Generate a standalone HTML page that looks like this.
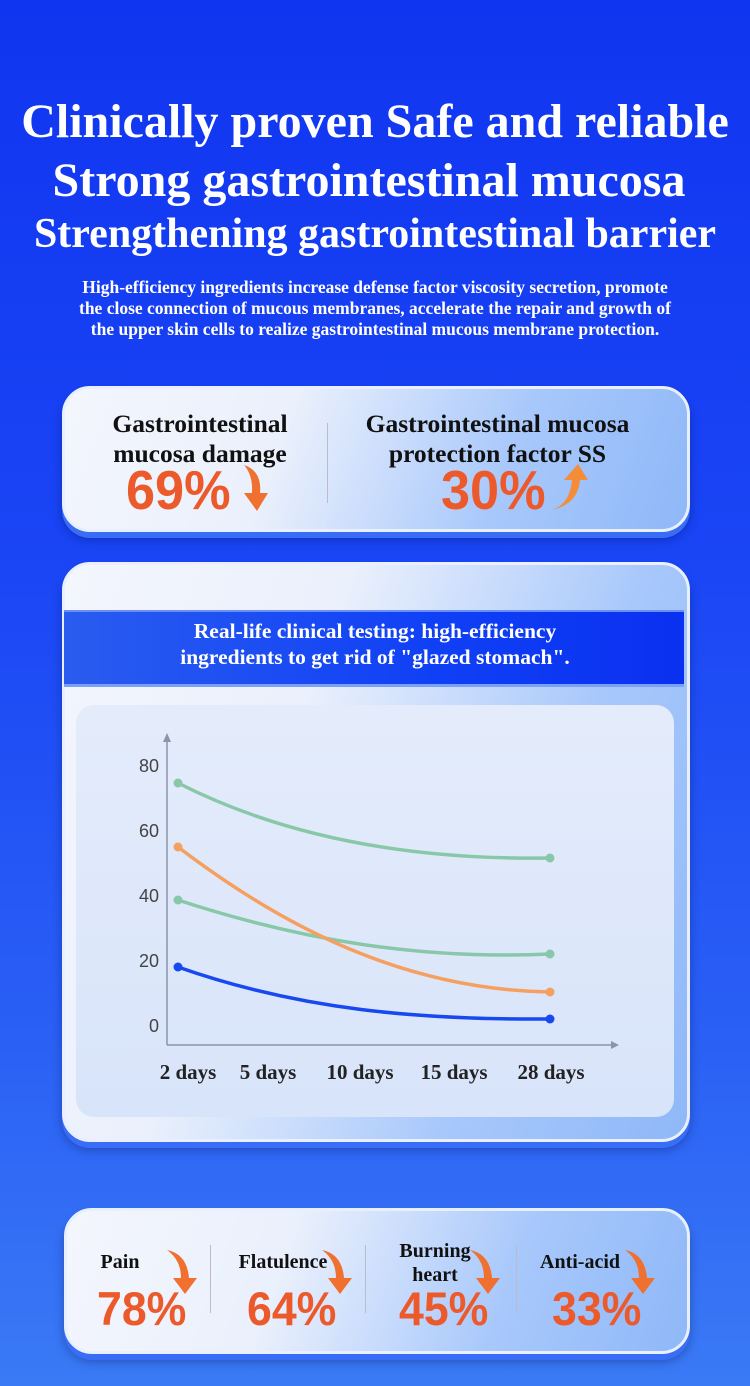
<!DOCTYPE html>
<html><head><style>
body{margin:0;width:750px;height:1386px;overflow:hidden;font-family:"Liberation Serif",serif;}
.bg{position:absolute;left:0;top:0;width:750px;height:1386px;background:linear-gradient(180deg,#1035f0 0%,#1a45f5 40%,#2a60f5 75%,#3a7af5 100%);}
.t{position:absolute;left:0;width:750px;text-align:center;color:#fff;font-weight:bold;white-space:nowrap;}
.card{position:absolute;border-radius:28px;border:3px solid #e8f0ff;background:linear-gradient(110deg,#f4f6fd 0%,#eaf0fc 35%,#a8c8fb 70%,#8fb8f8 100%);box-shadow:0 6px 0 #3a6df5,0 8px 10px rgba(0,0,60,.3);}
.lab{position:absolute;text-align:center;font-weight:bold;color:#111;white-space:nowrap;}
.num{position:absolute;font-family:"Liberation Sans",sans-serif;font-weight:bold;color:#ec5a2c;line-height:1;transform-origin:left top;transform:scaleX(0.95);}
.div{position:absolute;width:1px;background:#bbc;}
</style></head><body>
<div class="bg"></div>
<div class="t" style="top:94px;font-size:48px;">Clinically proven Safe and reliable</div>
<div class="t" style="top:153px;font-size:48px;left:-6px;">Strong gastrointestinal mucosa</div>
<div class="t" style="top:210px;font-size:42px;">Strengthening gastrointestinal barrier</div>
<div class="t" style="top:277px;font-size:17.5px;line-height:21px;">High-efficiency ingredients increase defense factor viscosity secretion, promote<br>the close connection of mucous membranes, accelerate the repair and growth of<br>the upper skin cells to realize gastrointestinal mucous membrane protection.</div>

<div class="card" style="left:62px;top:386px;width:622px;height:140px;"></div>
<div class="lab" style="left:90px;top:409px;width:220px;font-size:25.5px;line-height:30px;">Gastrointestinal<br>mucosa damage</div>
<div class="num" style="left:126px;top:463px;font-size:55px;">69%</div>
<svg style="position:absolute;left:238px;top:463px" width="40" height="50"><path d="M6 2 Q24 8 22 30 L30 30 L19 48 L6 30 L14 30 Q15 12 6 2Z" fill="#f07030"/></svg>
<div class="div" style="left:327px;top:423px;height:80px;"></div>
<div class="lab" style="left:340px;top:409px;width:315px;font-size:25.5px;line-height:30px;">Gastrointestinal mucosa<br>protection factor SS</div>
<div class="num" style="left:441px;top:463px;font-size:55px;">30%</div>
<svg style="position:absolute;left:548px;top:462px" width="44" height="50"><path d="M4 48 Q22 42 24 18 L16 18 L30 2 L40 18 L32 18 Q30 42 4 48Z" fill="#f48c38"/></svg>

<div class="card" style="left:62px;top:562px;width:622px;height:574px;"></div>
<div style="position:absolute;left:64px;top:610px;width:620px;height:72px;background:linear-gradient(90deg,#2a5cf0,#1040f5 60%,#0a30f0);border-top:2px solid #6a90f8;border-bottom:3px solid #7aa0f8;"></div>
<div class="t" style="top:618px;font-size:21.5px;line-height:26px;">Real-life clinical testing: high-efficiency<br>ingredients to get rid of "glazed stomach".</div>
<div style="position:absolute;left:76px;top:705px;width:598px;height:412px;border-radius:18px;background:linear-gradient(180deg,#e4ecfb,#d8e4fa);"></div>
<svg style="position:absolute;left:0;top:0" width="750" height="1386">
<g stroke="#8a95a8" stroke-width="1.5" fill="none"><path d="M167 1045 V738"/><path d="M167 1045 H615"/></g>
<path d="M163 742 L167 733 L171 742Z" fill="#8a95a8"/><path d="M611 1041 L619 1045 L611 1049Z" fill="#8a95a8"/>
<g font-family="Liberation Sans,sans-serif" font-size="18" fill="#444" text-anchor="end">
<text x="159" y="772">80</text><text x="159" y="837">60</text><text x="159" y="902">40</text><text x="159" y="967">20</text><text x="159" y="1032">0</text></g>
<g font-family="Liberation Serif,serif" font-size="21" font-weight="bold" fill="#222" text-anchor="middle">
<text x="188" y="1079">2 days</text><text x="268" y="1079">5 days</text><text x="360" y="1079">10 days</text><text x="454" y="1079">15 days</text><text x="551" y="1079">28 days</text></g>
<g fill="none" stroke-width="3.5">
<path d="M178 783 C290 840 420 860 550 858" stroke="#88c8a8"/>
<path d="M178 900 C300 940 420 960 550 954" stroke="#88c8a8"/>
<path d="M178 847 C300 940 420 990 550 992" stroke="#f5a060"/>
<path d="M178 967 C300 1010 420 1020 550 1019" stroke="#1848f0"/>
</g>
<g><circle cx="178" cy="783" r="4.5" fill="#88c8a8"/><circle cx="550" cy="858" r="4.5" fill="#88c8a8"/>
<circle cx="178" cy="900" r="4.5" fill="#88c8a8"/><circle cx="550" cy="954" r="4.5" fill="#88c8a8"/>
<circle cx="178" cy="847" r="4.5" fill="#f5a060"/><circle cx="550" cy="992" r="4.5" fill="#f5a060"/>
<circle cx="178" cy="967" r="4.5" fill="#1848f0"/><circle cx="550" cy="1019" r="4.5" fill="#1848f0"/></g>
</svg>

<div class="card" style="left:64px;top:1208px;width:620px;height:140px;"></div>
<div class="lab" style="left:95px;top:1251px;width:50px;font-size:20px;">Pain</div>
<div class="num" style="left:97px;top:1285px;font-size:47px;">78%</div>
<div class="div" style="left:210px;top:1245px;height:68px;"></div>
<div class="lab" style="left:228px;top:1251px;width:110px;font-size:20px;">Flatulence</div>
<div class="num" style="left:247px;top:1285px;font-size:47px;">64%</div>
<div class="div" style="left:365px;top:1245px;height:68px;"></div>
<div class="lab" style="left:390px;top:1239px;width:90px;font-size:20px;line-height:24px;">Burning<br>heart</div>
<div class="num" style="left:399px;top:1285px;font-size:47px;">45%</div>
<div class="div" style="left:516px;top:1245px;height:68px;"></div>
<div class="lab" style="left:535px;top:1251px;width:90px;font-size:20px;">Anti-acid</div>
<div class="num" style="left:552px;top:1285px;font-size:47px;">33%</div>
<svg style="position:absolute;left:0;top:0" width="750" height="1386">
<g fill="#f07030">
<path d="M0 0 Q20 4 22 28 L30 28 L18 44 L6 28 L14 28 Q14 10 0 0Z" transform="translate(167,1250)"/>
<path d="M0 0 Q20 4 22 28 L30 28 L18 44 L6 28 L14 28 Q14 10 0 0Z" transform="translate(322,1250)"/>
<path d="M0 0 Q20 4 22 28 L30 28 L18 44 L6 28 L14 28 Q14 10 0 0Z" transform="translate(470,1250)"/>
<path d="M0 0 Q20 4 22 28 L30 28 L18 44 L6 28 L14 28 Q14 10 0 0Z" transform="translate(625,1250)"/>
</g></svg>
</body></html>
